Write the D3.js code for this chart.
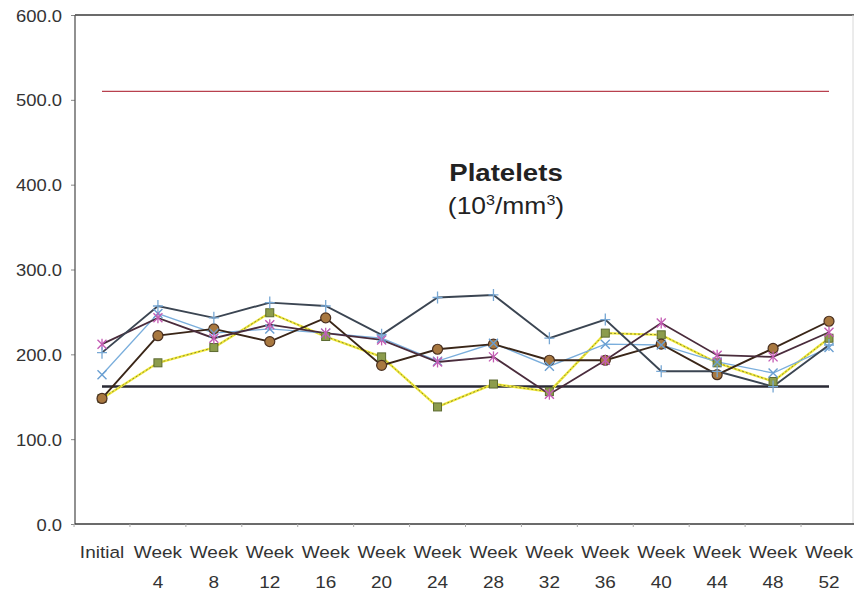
<!DOCTYPE html>
<html><head><meta charset="utf-8">
<script src="https://cdn.jsdelivr.net/npm/d3@7"></script>
<style>html,body{margin:0;padding:0;background:#fff;}svg{display:block;}</style>
</head><body>
<svg id="chart" width="854" height="593"></svg>
<script>
// ---- data ----
const categories = ["Initial","Week 4","Week 8","Week 12","Week 16","Week 20","Week 24","Week 28","Week 32","Week 36","Week 40","Week 44","Week 48","Week 52"];
const yTicks = [0,100,200,300,400,500,600];
const upperLimit = 510;
const lowerLimit = 162;
const seriesPlus     = [202,257,243,261,257,223,267,270,219,241,180,180,162,211];
const seriesStar     = [212,243,219,235,225,217,191,197,153,193,237,199,197,226];
const seriesCross    = [176,248,225,230,225,219,192,213,186,212,211,191,178,208];
const seriesSquare   = [148,190,208,249,221,197,138,165,156,225,223,190,168,219];
const seriesCircle   = [148,222,230,215,243,187,206,212,193,193,212,176,207,239];

const svg = d3.select("#chart");
const x = d3.scalePoint().domain(categories).range([102, 829]);
const y = d3.scaleLinear().domain([0,600]).range([524, 15]);
const SX = 1.15; // horizontal stretch of the scanned text
const plotLeft = 75, plotRight = 854;

// y axis (ticks + labels)
const yAxis = svg.append("g").attr("transform",`translate(${plotLeft},0)`)
  .call(d3.axisLeft(y).tickValues(yTicks).tickSize(4).tickSizeOuter(0).tickFormat(d3.format(".1f")));
yAxis.select(".domain").remove();
yAxis.selectAll(".tick line").attr("stroke","#888");
yAxis.selectAll(".tick text").each(function(){
  const t = d3.select(this);
  const txt = t.text();
  t.text(null).attr("x",null).attr("dy",null)
   .attr("transform",`translate(-13,6) scale(${SX},1)`)
   .attr("text-anchor","end")
   .style("font-family","'Liberation Sans',Arial,sans-serif")
   .style("font-size","16px").attr("fill","#333").text(txt);
});

// frame lines
svg.append("line").attr("x1",plotLeft).attr("x2",plotRight).attr("y1",y(600)).attr("y2",y(600)).attr("stroke","#3a3a3a").attr("stroke-width",1.6);
svg.append("line").attr("x1",853).attr("x2",853).attr("y1",y(600)).attr("y2",y(0)).attr("stroke","#d8d8d8").attr("stroke-width",1);
svg.append("line").attr("x1",plotLeft).attr("x2",plotLeft).attr("y1",y(600)).attr("y2",y(0)).attr("stroke","#555").attr("stroke-width",1.3);
svg.append("line").attr("x1",plotLeft).attr("x2",plotRight).attr("y1",y(0)).attr("y2",y(0)).attr("stroke","#3a3a3a").attr("stroke-width",1.6);

// x axis category boundary ticks
const step = x.step();
svg.append("g").selectAll("line").data(d3.range(categories.length+1)).join("line")
  .attr("x1",i=>x(categories[0]) - step/2 + i*step).attr("x2",i=>x(categories[0]) - step/2 + i*step)
  .attr("y1",y(0)).attr("y2",y(0)+3).attr("stroke","#aaa").attr("stroke-width",1);
const labG = svg.append("g");
categories.forEach(c=>{
  const parts = c.split(" ");
  parts.forEach((p,i)=>{
    labG.append("text")
      .attr("transform",`translate(${x(c)},${558 + i*30}) scale(${SX},1)`)
      .attr("text-anchor","middle")
      .style("font-family","'Liberation Sans',Arial,sans-serif")
      .style("font-size","16.5px").attr("fill","#333").text(p);
  });
});

// reference lines
svg.append("line").attr("x1",x(categories[0])).attr("x2",x(categories[categories.length-1]))
  .attr("y1",y(upperLimit)).attr("y2",y(upperLimit)).attr("stroke","#b8404e").attr("stroke-width",1.1);
svg.append("line").attr("x1",x(categories[0])).attr("x2",x(categories[categories.length-1]))
  .attr("y1",y(lowerLimit)).attr("y2",y(lowerLimit)).attr("stroke","#2a2a35").attr("stroke-width",2.4);

const line = d3.line().x((d,i)=>x(categories[i])).y(d=>y(d));

// yellow dotted series with green squares
svg.append("path").datum(seriesSquare).attr("d",line).attr("fill","none").attr("stroke","#f2ea3c").attr("stroke-width",2.4);
svg.append("path").datum(seriesSquare).attr("d",line).attr("fill","none").attr("stroke","#8a8a30").attr("stroke-width",1).attr("stroke-dasharray","2,2");

// light blue x series
svg.append("path").datum(seriesCross).attr("d",line).attr("fill","none").attr("stroke","#7aaedc").attr("stroke-width",1.3);

// brown circle series line
svg.append("path").datum(seriesCircle).attr("d",line).attr("fill","none").attr("stroke","#3a2618").attr("stroke-width",1.9);

// star series line
svg.append("path").datum(seriesStar).attr("d",line).attr("fill","none").attr("stroke","#4a2c3c").attr("stroke-width",1.8);

// plus series line
svg.append("path").datum(seriesPlus).attr("d",line).attr("fill","none").attr("stroke","#3b4552").attr("stroke-width",1.9);

// markers
const mk = svg.append("g");
seriesSquare.forEach((v,i)=>{
  mk.append("rect").attr("x",x(categories[i])-4).attr("y",y(v)-4).attr("width",8).attr("height",8)
    .attr("fill","#8c9c4c").attr("stroke","#5c6a30").attr("stroke-width",1);
});
seriesCircle.forEach((v,i)=>{
  mk.append("circle").attr("cx",x(categories[i])).attr("cy",y(v)).attr("r",5)
    .attr("fill","#a87840").attr("stroke","#4a3020").attr("stroke-width",1.2);
});
function cross(g,cx,cy,s,color,w){
  g.append("path").attr("d",`M${cx-s},${cy-s}L${cx+s},${cy+s}M${cx-s},${cy+s}L${cx+s},${cy-s}`)
   .attr("stroke",color).attr("stroke-width",w).attr("fill","none");
}
seriesCross.forEach((v,i)=>cross(mk,x(categories[i]),y(v),4.5,"#6a9fd2",1.4));
seriesStar.forEach((v,i)=>{
  const cx=x(categories[i]), cy=y(v);
  cross(mk,cx,cy,4.5,"#c45cb4",1.4);
  mk.append("line").attr("x1",cx).attr("x2",cx).attr("y1",cy-5.5).attr("y2",cy+5.5).attr("stroke","#c45cb4").attr("stroke-width",1.3);
});
seriesPlus.forEach((v,i)=>{
  const cx=x(categories[i]), cy=y(v);
  mk.append("path").attr("d",`M${cx-5},${cy}L${cx+5},${cy}M${cx},${cy-6}L${cx},${cy+6}`)
    .attr("stroke","#78a8d4").attr("stroke-width",1.3).attr("fill","none");
});

// title
svg.append("text").attr("transform",`translate(506,181) scale(${SX},1)`).attr("text-anchor","middle")
  .style("font-family","'Liberation Sans',Arial,sans-serif").style("font-size","24px").style("font-weight","bold")
  .attr("fill","#222").text("Platelets");
const sub = svg.append("text").attr("transform",`translate(506,214) scale(${SX},1)`).attr("text-anchor","middle")
  .style("font-family","'Liberation Sans',Arial,sans-serif").style("font-size","23px").attr("fill","#222");
sub.append("tspan").text("(10");
sub.append("tspan").attr("dy",-9).style("font-size","14px").text("3");
sub.append("tspan").attr("dy",9).text("/mm");
sub.append("tspan").attr("dy",-9).style("font-size","14px").text("3");
sub.append("tspan").attr("dy",9).text(")");
</script>
</body></html>
